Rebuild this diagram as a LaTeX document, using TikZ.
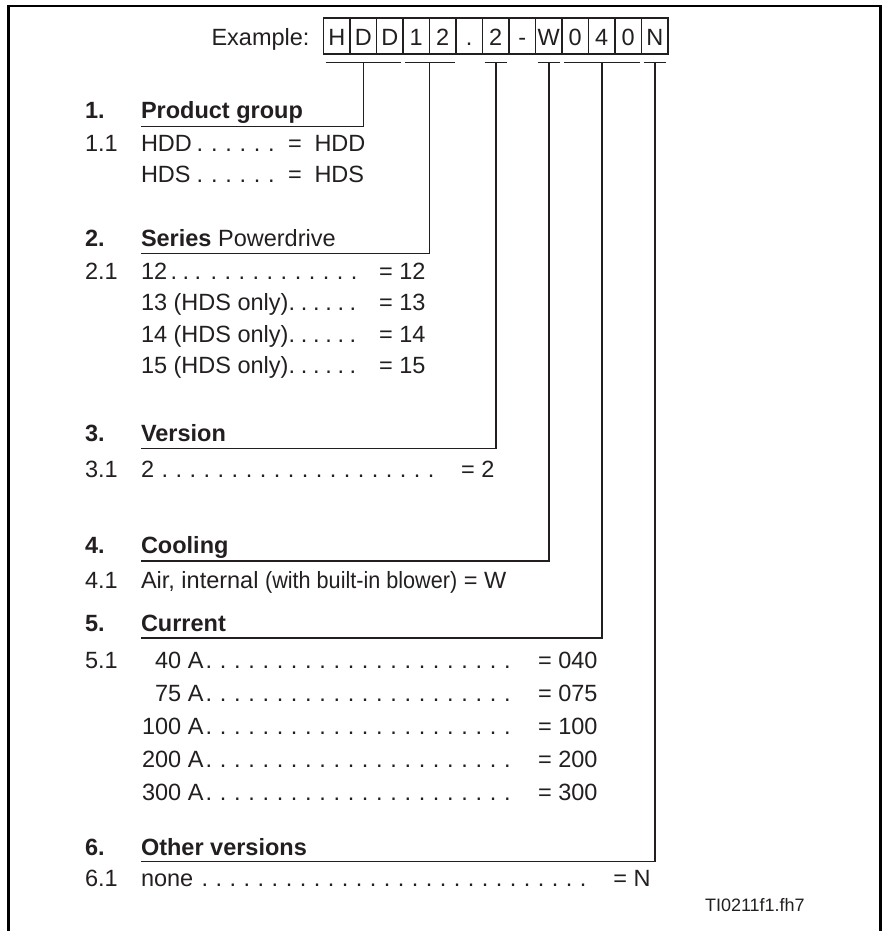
\documentclass[tikz,border=0pt]{standalone}
\usepackage{fontspec}
\setmainfont{Liberation Sans}
\usepackage{graphicx}
\definecolor{ink}{RGB}{35,31,32}
\newcount\dotcnt
\newcommand\dotrow[2]{\hbox{\dotcnt=0 \loop\ifnum\dotcnt<#1 \hbox to #2pt{\hss.\hss}\advance\dotcnt by 1 \repeat}}
\tikzset{
  txt/.style={inner sep=0pt, outer sep=0pt, anchor=base west, text=ink,
    font=\fontsize{23.5}{28}\selectfont},
  hd/.style={txt, font=\fontsize{23.5}{28}\selectfont\bfseries},
  rtxt/.style={txt, anchor=base east},
  cell/.style={draw=ink, line width=1.1pt, minimum width=26.5pt, inner sep=0pt,
    text height=28pt, text depth=8pt, anchor=base, text=ink,
    font=\fontsize{23.5}{28}\selectfont},
  ln/.style={draw=ink, line width=1.5pt},
  frame/.style={draw=black, line width=2.2pt}
}
\begin{document}
\begin{tikzpicture}[x=1pt,y=-1pt]
\useasboundingbox (0,0) rectangle (883,931);
\draw[frame] (8.5,940) -- (8.5,6) -- (880.5,6) -- (880.5,940);

% example code
\node[rtxt] (ex) at (309.5,46) {Example:};
\foreach \ch [count=\i from 0] in {H,D,D,1,2,.,2,-,W,0,4,0,N} {
  \node[cell] (c\i) at ({336.75+26.5*\i},46) {\ch};
}

% bars and tap points
\coordinate (t1) at (363.25,62.5);
\coordinate (t2) at (429.5,62.5);
\coordinate (t3) at (495.75,62.5);
\coordinate (t4) at (548.75,62.5);
\coordinate (t5) at (601.75,62.5);
\coordinate (t6) at (654.75,62.5);
\draw[ln] (325.5,62.5) -- (401,62.5);
\draw[ln] (405,62.5) -- (454.5,62.5);
\draw[ln] (484.5,62.5) -- (507,62.5);
\draw[ln] (537.5,62.5) -- (560,62.5);
\draw[ln] (564,62.5) -- (639.5,62.5);
\draw[ln] (643.5,62.5) -- (666,62.5);

% underline starts
\coordinate (u1) at (141,126.5);
\coordinate (u2) at (141,253.5);
\coordinate (u3) at (141,448.5);
\coordinate (u4) at (141,561);
\coordinate (u5) at (141,638);
\coordinate (u6) at (141,861.5);
\foreach \k in {1,...,6} {
  \draw[ln, line join=miter] (u\k) -- (u\k -| t\k) -- (t\k);
}

% 1. Product group
\node[hd] (n1) at (85,118.5) {1.};
\node[hd] (h1) at (141,118.5) {Product group};
\node[txt] (n11) at (85,151) {1.1};
\node[txt] (a11) at (141,151) {HDD};
\node[txt] (d11) at (192.85,151) {\dotrow{6}{14.3}};
\node[txt] (e11) at (288,151) {=};
\node[txt] (v11) at (314.5,151) {HDD};
\node[txt] (a12) at (141,182.5) {HDS};
\node[txt] (d12) at (192.85,182.5) {\dotrow{6}{14.3}};
\node[txt] (e12) at (288,182.5) {=};
\node[txt] (v12) at (314.5,182.5) {HDS};

% 2. Series
\node[hd] (n2) at (85,246.5) {2.};
\node[txt] (h2) at (141,246.5) {\textbf{Series} Powerdrive};
\node[txt] (n21) at (85,279) {2.1};
\node[txt] (a21) at (141,279) {12};
\node[txt] (d21a) at (168,279) {\dotrow{3}{12}};
\node[txt] (d21b) at (207,279) {\dotrow{11}{14}};
\node[rtxt] (v21) at (425.5,279) {= 12};
\node[txt] (a22) at (141,310.5) {13 (HDS only)};
\node[txt] (d22) at (285.9,310.5) {\dotrow{6}{12.2}};
\node[rtxt] (v22) at (425.5,310.5) {= 13};
\node[txt] (a23) at (141,342) {14 (HDS only)};
\node[txt] (d23) at (285.9,342) {\dotrow{6}{12.2}};
\node[rtxt] (v23) at (425.5,342) {= 14};
\node[txt] (a24) at (141,373.5) {15 (HDS only)};
\node[txt] (d24) at (285.9,373.5) {\dotrow{6}{12.2}};
\node[rtxt] (v24) at (425.5,373.5) {= 15};

% 3. Version
\node[hd] (n3) at (85,441) {3.};
\node[hd] (h3) at (141,441) {Version};
\node[txt] (n31) at (85,477) {3.1};
\node[txt] (a31) at (141,477) {2};
\node[txt] (d31) at (158,477) {\dotrow{20}{14}};
\node[rtxt] (v31) at (494.5,477) {= 2};

% 4. Cooling
\node[hd] (n4) at (85,553) {4.};
\node[hd] (h4) at (141,553) {Cooling};
\node[txt] (n41) at (85,588) {4.1};
\node[txt] (a41) at (141,588) {Air, internal \scalebox{0.92}[1]{(with built-in blower)} = W};

% 5. Current
\node[hd] (n5) at (85,631) {5.};
\node[hd] (h5) at (141,631) {Current};
\node[txt] (n51) at (85,668) {5.1};
\foreach \lab/\val [count=\j from 0] in {40 A/040,75 A/075,100 A/100,200 A/200,300 A/300} {
  \node[rtxt] (a5\j) at (203.5,{668+33*\j}) {\lab};
  \node[txt] (d5\j) at (201.9,{668+33*\j}) {\dotrow{22}{14.2}};
  \node[rtxt] (v5\j) at (597.5,{668+33*\j}) {= \val};
}

% 6. Other versions
\node[hd] (n6) at (85,855) {6.};
\node[hd] (h6) at (141,855) {Other versions};
\node[txt] (n61) at (85,886) {6.1};
\node[txt] (a61) at (141,886) {none};
\node[txt] (d61) at (198,886) {\dotrow{28}{14}};
\node[rtxt] (v61) at (650.5,886) {= N};

\node[txt, font=\fontsize{18}{22}\selectfont] (ref) at (705,911.7) {TI0211f1.fh7};
\end{tikzpicture}
\end{document}
